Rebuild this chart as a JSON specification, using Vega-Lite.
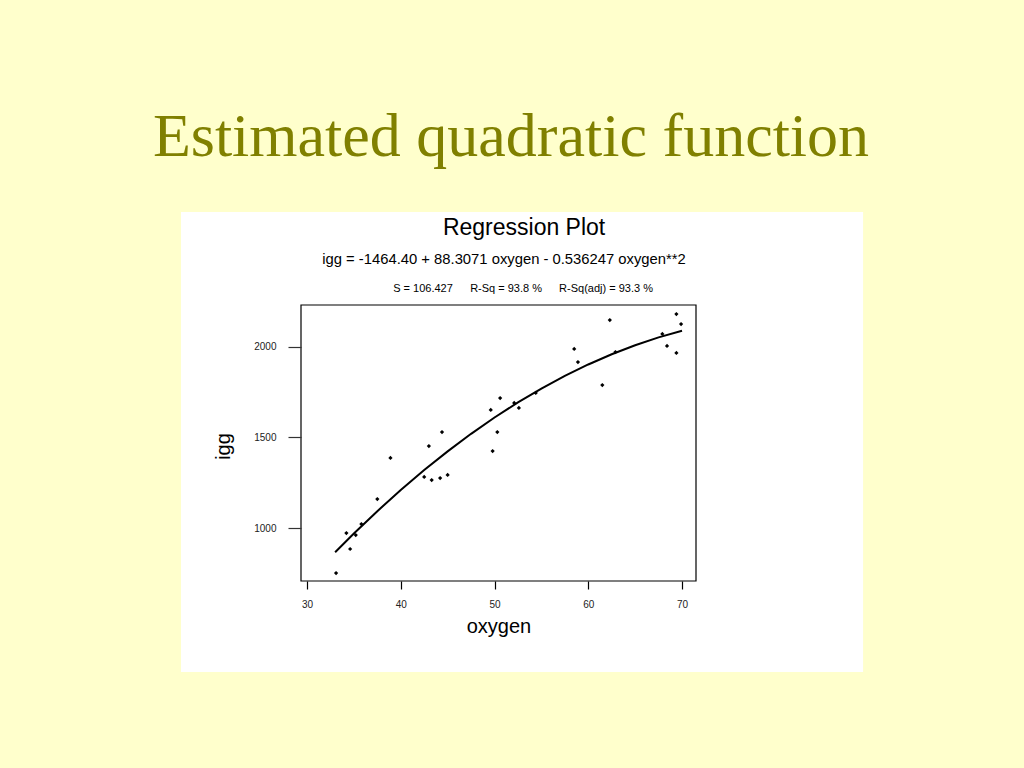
{
  "$schema": "https://vega.github.io/schema/vega-lite/v6.json",
  "width": 395,
  "height": 276,
  "autosize": {"type": "none"},
  "padding": {"left": 301, "top": 305, "right": 328, "bottom": 187},
  "background": "#FFFFCC",
  "config": {
    "view": {"stroke": null},
    "font": "Liberation Sans"
  },
  "title": {
    "text": "Estimated quadratic function",
    "font": "Liberation Serif",
    "fontSize": 62,
    "fontWeight": "normal",
    "color": "#808000",
    "anchor": "middle",
    "frame": "group",
    "dx": 12.5,
    "offset": -6,
    "baseline": "alphabetic",
    "zindex": 1
  },
  "datasets": {
    "obs": [
      {"oxygen": 33.1, "igg": 751},
      {"oxygen": 34.2, "igg": 972},
      {"oxygen": 34.6, "igg": 884},
      {"oxygen": 35.2, "igg": 961},
      {"oxygen": 35.8, "igg": 1022},
      {"oxygen": 37.5, "igg": 1160},
      {"oxygen": 38.9, "igg": 1387},
      {"oxygen": 42.5, "igg": 1282},
      {"oxygen": 43.0, "igg": 1453},
      {"oxygen": 43.3, "igg": 1265},
      {"oxygen": 44.2, "igg": 1276},
      {"oxygen": 44.4, "igg": 1530},
      {"oxygen": 45.0, "igg": 1293},
      {"oxygen": 49.6, "igg": 1652},
      {"oxygen": 49.8, "igg": 1425},
      {"oxygen": 50.3, "igg": 1530},
      {"oxygen": 50.6, "igg": 1718},
      {"oxygen": 52.1, "igg": 1691},
      {"oxygen": 52.6, "igg": 1663},
      {"oxygen": 54.4, "igg": 1746},
      {"oxygen": 58.5, "igg": 1989},
      {"oxygen": 58.9, "igg": 1917},
      {"oxygen": 61.5, "igg": 1790},
      {"oxygen": 62.3, "igg": 2149},
      {"oxygen": 62.9, "igg": 1972},
      {"oxygen": 67.9, "igg": 2072},
      {"oxygen": 68.4, "igg": 2006},
      {"oxygen": 69.4, "igg": 2182},
      {"oxygen": 69.4, "igg": 1967},
      {"oxygen": 69.9, "igg": 2127}
    ],
    "fit": [
      {"oxygen": 33, "igg": 865.8},
      {"oxygen": 35, "igg": 969.5},
      {"oxygen": 37.5, "igg": 1093.0},
      {"oxygen": 40, "igg": 1209.9},
      {"oxygen": 42.5, "igg": 1320.1},
      {"oxygen": 45, "igg": 1423.5},
      {"oxygen": 47.5, "igg": 1520.3},
      {"oxygen": 50, "igg": 1610.3},
      {"oxygen": 52.5, "igg": 1693.7},
      {"oxygen": 55, "igg": 1770.3},
      {"oxygen": 57.5, "igg": 1840.3},
      {"oxygen": 60, "igg": 1903.5},
      {"oxygen": 62.5, "igg": 1960.1},
      {"oxygen": 65, "igg": 2009.9},
      {"oxygen": 67.5, "igg": 2053.1},
      {"oxygen": 70, "igg": 2089.5}
    ],
    "one": [{}]
  },
  "layer": [
    {
      "data": {"name": "one"},
      "mark": {"type": "rect", "fill": "white", "stroke": null},
      "encoding": {
        "x": {"datum": 16.56, "type": "quantitative", "scale": {"domain": [29.36, 71.49], "nice": false, "zero": false}},
        "x2": {"datum": 89.31},
        "y": {"datum": 2745.9, "type": "quantitative", "scale": {"domain": [707.2, 2232], "nice": false, "zero": false}},
        "y2": {"datum": 204.4}
      }
    },
    {
      "data": {"name": "one"},
      "mark": {"type": "rect", "fill": null, "stroke": "black", "strokeWidth": 1.2},
      "encoding": {
        "x": {"datum": 29.36, "type": "quantitative"},
        "x2": {"datum": 71.49},
        "y": {"datum": 707.2, "type": "quantitative"},
        "y2": {"datum": 2232}
      }
    },
    {
      "data": {"name": "fit"},
      "mark": {"type": "line", "color": "black", "strokeWidth": 2},
      "encoding": {
        "x": {"field": "oxygen", "type": "quantitative"},
        "y": {"field": "igg", "type": "quantitative"}
      }
    },
    {
      "data": {"name": "obs"},
      "mark": {"type": "point", "filled": true, "shape": "diamond", "size": 18, "color": "black", "opacity": 1},
      "encoding": {
        "x": {
          "field": "oxygen", "type": "quantitative",
          "axis": {
            "values": [30, 40, 50, 60, 70],
            "format": "d",
            "domain": false, "grid": false,
            "tickSize": 8, "tickColor": "black", "tickWidth": 1.2,
            "labelFontSize": 10, "labelColor": "#222", "labelPadding": 10,
            "title": "oxygen", "titleFontSize": 20, "titleFontWeight": "normal", "titleColor": "black",
            "titleBaseline": "alphabetic", "titleY": 51, "titleX": 197.5, "titleAnchor": "middle",
            "zindex": 1
          }
        },
        "y": {
          "field": "igg", "type": "quantitative",
          "axis": {
            "values": [1000, 1500, 2000],
            "format": "d",
            "domain": false, "grid": false,
            "tickSize": 13, "tickColor": "#333", "tickWidth": 1.2,
            "labelFontSize": 10, "labelColor": "#222", "labelPadding": 12,
            "title": "igg", "titleFontSize": 20, "titleFontWeight": "normal", "titleColor": "black",
            "titleAngle": -90, "titleBaseline": "alphabetic", "titleX": -72, "titleY": 141, "titleAnchor": "middle",
            "zindex": 1
          }
        }
      }
    },
    {
      "data": {"name": "one"},
      "mark": {"type": "text", "fontSize": 23, "color": "black", "baseline": "middle", "align": "center"},
      "encoding": {
        "x": {"datum": 53.15, "type": "quantitative"},
        "y": {"datum": 2657.5, "type": "quantitative"},
        "text": {"value": "Regression Plot"}
      }
    },
    {
      "data": {"name": "one"},
      "mark": {"type": "text", "fontSize": 14.8, "color": "black", "baseline": "middle", "align": "center"},
      "encoding": {
        "x": {"datum": 51.01, "type": "quantitative"},
        "y": {"datum": 2480.7, "type": "quantitative"},
        "text": {"value": "igg = -1464.40 + 88.3071 oxygen  - 0.536247 oxygen**2"}
      }
    },
    {
      "data": {"name": "one"},
      "mark": {"type": "text", "fontSize": 11, "color": "black", "baseline": "middle", "align": "center"},
      "encoding": {
        "x": {"datum": 42.37, "type": "quantitative"},
        "y": {"datum": 2320.4, "type": "quantitative"},
        "text": {"value": "S = 106.427"}
      }
    },
    {
      "data": {"name": "one"},
      "mark": {"type": "text", "fontSize": 11, "color": "black", "baseline": "middle", "align": "center"},
      "encoding": {
        "x": {"datum": 51.23, "type": "quantitative"},
        "y": {"datum": 2320.4, "type": "quantitative"},
        "text": {"value": "R-Sq = 93.8 %"}
      }
    },
    {
      "data": {"name": "one"},
      "mark": {"type": "text", "fontSize": 11, "color": "black", "baseline": "middle", "align": "center"},
      "encoding": {
        "x": {"datum": 61.89, "type": "quantitative"},
        "y": {"datum": 2320.4, "type": "quantitative"},
        "text": {"value": "R-Sq(adj) = 93.3 %"}
      }
    }
  ]
}
